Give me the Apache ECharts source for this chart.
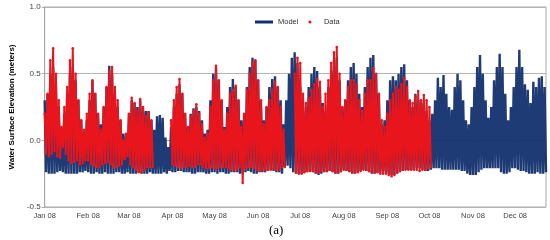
<!DOCTYPE html>
<html>
<head>
<meta charset="utf-8">
<script src="https://cdn.jsdelivr.net/npm/echarts@6/dist/echarts.min.js"></script>
<style>
html,body{margin:0;padding:0;background:#fff;}
#chart{width:550px;height:240px;}
</style>
</head>
<body>
<div id="chart"></div>
<script>
// days since Jan 1 2008, one high/low pair every STEP days
var STEP = 2;
var monthDays = [0, 31, 60, 91, 121, 152, 182, 213, 244, 274, 305, 335];
var monthLabels = ['Jan 08', 'Feb 08', 'Mar 08', 'Apr 08', 'May 08', 'Jun 08', 'Jul 08', 'Aug 08', 'Sep 08', 'Oct 08', 'Nov 08', 'Dec 08'];

// model, upper envelope (m)
var modelHigh = [
	0.30,0.35,0.50,0.55,0.40,0.25,0.10,0.20,0.35,0.50,
	0.55,0.45,0.30,0.15,0.05,0.15,0.30,0.45,0.35,0.20,
	0.12,0.25,0.40,0.56,0.50,0.35,0.25,0.15,0.05,0.05,
	0.20,0.30,0.28,0.25,0.30,0.25,0.22,0.22,0.15,0.08,
	0.18,0.19,0.17,0.02,-0.05,0.10,0.25,0.35,0.42,0.35,
	0.20,0.10,0.20,0.24,0.25,0.22,0.15,0.05,0.08,0.30,
	0.50,0.55,0.45,0.30,0.10,0.25,0.40,0.46,0.40,0.30,
	0.15,0.20,0.40,0.55,0.62,0.60,0.45,0.30,0.15,0.25,
	0.40,0.46,0.48,0.40,0.30,0.12,0.30,0.50,0.62,0.66,
	0.58,0.40,0.22,0.25,0.40,0.50,0.55,0.52,0.40,0.28,
	0.22,0.40,0.52,0.60,0.62,0.45,0.25,0.30,0.45,0.55,
	0.58,0.50,0.35,0.25,0.40,0.55,0.62,0.64,0.50,0.35,
	0.12,0.15,0.30,0.45,0.48,0.45,0.50,0.55,0.57,0.45,
	0.30,0.25,0.35,0.30,0.30,0.28,0.22,0.15,0.20,0.30,
	0.47,0.40,0.49,0.35,0.25,0.23,0.40,0.50,0.45,0.30,
	0.15,0.12,0.25,0.40,0.55,0.64,0.50,0.30,0.17,0.25,
	0.45,0.55,0.65,0.55,0.35,0.15,0.25,0.40,0.55,0.68,
	0.55,0.42,0.38,0.28,0.44,0.40,0.47,0.48,0.40
];
// model, lower envelope (m)
var modelLow = [
	-0.24,-0.25,-0.25,-0.25,-0.24,-0.23,-0.24,-0.25,-0.25,-0.25,
	-0.25,-0.25,-0.24,-0.24,-0.23,-0.24,-0.25,-0.25,-0.24,-0.25,
	-0.25,-0.24,-0.25,-0.25,-0.25,-0.24,-0.24,-0.25,-0.25,-0.24,
	-0.25,-0.25,-0.25,-0.24,-0.25,-0.25,-0.25,-0.24,-0.25,-0.25,
	-0.25,-0.25,-0.24,-0.25,-0.23,-0.24,-0.24,-0.23,-0.23,-0.24,
	-0.24,-0.24,-0.25,-0.25,-0.24,-0.24,-0.24,-0.25,-0.25,-0.24,
	-0.24,-0.25,-0.24,-0.24,-0.25,-0.25,-0.24,-0.24,-0.24,-0.25,
	-0.25,-0.24,-0.23,-0.24,-0.25,-0.25,-0.24,-0.24,-0.24,-0.23,
	-0.22,-0.23,-0.24,-0.24,-0.25,-0.20,-0.19,-0.21,-0.24,-0.25,
	-0.25,-0.25,-0.24,-0.24,-0.23,-0.24,-0.25,-0.26,-0.25,-0.24,
	-0.24,-0.23,-0.24,-0.25,-0.25,-0.24,-0.22,-0.23,-0.24,-0.25,
	-0.25,-0.24,-0.23,-0.22,-0.23,-0.24,-0.25,-0.25,-0.24,-0.24,
	-0.23,-0.24,-0.25,-0.26,-0.26,-0.25,-0.24,-0.23,-0.22,-0.22,
	-0.22,-0.22,-0.21,-0.21,-0.22,-0.23,-0.23,-0.22,-0.21,-0.21,
	-0.21,-0.22,-0.22,-0.22,-0.22,-0.22,-0.22,-0.22,-0.23,-0.23,
	-0.25,-0.26,-0.26,-0.26,-0.24,-0.22,-0.21,-0.21,-0.21,-0.21,
	-0.21,-0.21,-0.24,-0.25,-0.25,-0.24,-0.21,-0.21,-0.22,-0.23,
	-0.23,-0.24,-0.25,-0.25,-0.25,-0.24,-0.25,-0.25,-0.24
];
// observed data, upper / lower envelope (m), null = no data
var dataHigh = [
	0.20,0.35,0.60,0.69,0.50,0.30,0.10,0.25,0.40,0.60,
	0.69,0.50,0.30,0.15,0.08,0.20,0.35,0.45,0.35,0.20,
	0.08,0.25,0.40,0.52,0.55,0.40,0.30,0.15,0.00,0.05,
	0.20,0.32,0.28,0.22,0.31,0.25,0.18,0.21,0.15,null,
	null,null,null,null,null,0.15,0.30,0.40,0.46,0.35,
	0.20,0.10,0.18,0.22,0.27,0.20,0.12,0.02,0.05,0.25,
	0.45,0.56,0.45,0.30,0.08,0.20,0.35,0.38,0.41,0.30,
	0.10,0.20,0.38,0.50,0.58,0.60,0.45,0.30,0.12,0.25,
	0.30,0.38,0.44,0.40,0.25,0.08,null,null,null,0.50,
	0.62,0.58,0.35,0.28,0.32,0.38,0.42,0.46,0.44,0.25,
	0.35,0.45,0.58,0.66,0.70,0.50,0.25,0.30,0.40,0.45,
	0.45,0.42,0.30,0.22,0.35,0.45,0.45,0.54,0.50,0.35,
	0.15,0.10,0.20,0.30,0.35,0.40,0.38,0.42,0.47,0.40,
	0.30,0.28,0.33,0.37,0.30,0.34,0.30,0.25
];
var dataLow = [
	-0.10,-0.12,-0.10,-0.08,-0.12,-0.13,-0.05,-0.10,-0.15,-0.17,
	-0.16,-0.15,-0.18,-0.17,-0.15,-0.15,-0.18,-0.19,-0.20,-0.20,
	-0.18,-0.17,-0.16,-0.18,-0.20,-0.20,-0.19,-0.18,-0.14,-0.12,
	-0.18,-0.20,-0.22,-0.24,-0.24,-0.22,-0.20,-0.20,-0.20,null,
	null,null,null,null,null,-0.18,-0.19,-0.20,-0.21,-0.20,
	-0.20,-0.19,-0.20,-0.20,-0.18,-0.18,-0.20,-0.21,-0.21,-0.20,
	-0.21,-0.21,-0.20,-0.20,-0.20,-0.21,-0.22,-0.22,-0.22,-0.20,
	-0.32,-0.21,-0.20,-0.20,-0.21,-0.22,-0.23,-0.22,-0.22,-0.22,
	-0.22,-0.21,-0.22,-0.22,-0.20,-0.20,null,null,null,-0.24,
	-0.25,-0.25,-0.24,-0.23,-0.23,-0.23,-0.24,-0.24,-0.23,-0.23,
	-0.23,-0.22,-0.23,-0.24,-0.24,-0.23,-0.22,-0.22,-0.23,-0.24,
	-0.24,-0.24,-0.23,-0.22,-0.22,-0.23,-0.24,-0.24,-0.24,-0.25,
	-0.25,-0.25,-0.26,-0.27,-0.26,-0.24,-0.23,-0.22,-0.22,-0.22,
	-0.22,-0.22,-0.22,-0.23,-0.22,-0.22,-0.21,-0.20
];

function zigzag(highs, lows){
	var out = [];
	for(var i=0;i<highs.length;i++){
		var d = i*STEP;
		out.push([d, highs[i]]);
		out.push([d+STEP/2, lows[i]]);
	}
	return out;
}

var font = '"Liberation Sans", Arial, sans-serif';
var chart = echarts.init(document.getElementById('chart'), null, {renderer:'canvas'});
var option = {
	animation: false,
	grid: {
		left: 38,
		right: 4,
		top: 7,
		bottom: 33,
		show: true,
		borderColor: '#a8a8a8',
		borderWidth: 1
	},
	legend: {
		left: 250,
		top: 13,
		itemWidth: 18,
		itemHeight: 3,
		itemGap: 10,
		textStyle: {
			fontFamily: font,
			fontSize: 7.5,
			color: '#333'
		},
		data: [
			{name: 'Model', icon: 'rect'},
			{name: 'Data', icon: 'circle'}
		]
	},
	xAxis: {
		type: 'value',
		min: 0,
		max: 357,
		splitLine: {show: false},
		axisLine: {lineStyle: {color: '#a8a8a8'}},
		axisTick: {
			customValues: monthDays,
			length: 3,
			lineStyle: {color: '#a8a8a8'}
		},
		axisLabel: {
			customValues: monthDays,
			formatter: function(v){
				return monthLabels[monthDays.indexOf(v)];
			},
			fontFamily: font,
			fontSize: 7.5,
			color: '#444',
			margin: 5
		}
	},
	yAxis: {
		type: 'value',
		min: -0.5,
		max: 1.0,
		interval: 0.5,
		name: 'Water Surface Elevation (meters)',
		nameLocation: 'middle',
		nameGap: 27,
		nameTextStyle: {
			fontFamily: font,
			fontSize: 8,
			fontWeight: 'bold',
			color: '#000'
		},
		axisLine: {show: true, lineStyle: {color: '#a8a8a8'}},
		axisTick: {show: true, length: 3, lineStyle: {color: '#a8a8a8'}},
		axisLabel: {
			formatter: function(v){ return v.toFixed(1); },
			fontFamily: font,
			fontSize: 8,
			color: '#444',
			margin: 4
		},
		splitLine: {lineStyle: {color: '#b4b4b4', width: 1}}
	},
	series: [{
		name: 'Model',
		type: 'line',
		data: zigzag(modelHigh, modelLow),
		showSymbol: false,
		symbol: 'none',
		color: '#13306e',
		lineStyle: {color: '#13306e', width: 2.4, opacity: 0.95, join: 'bevel'}
	}, {
		name: 'Data',
		type: 'line',
		data: zigzag(dataHigh, dataLow),
		connectNulls: false,
		symbol: 'circle',
		symbolSize: 2.5,
		showSymbol: true,
		showAllSymbol: true,
		color: '#e8161c',
		itemStyle: {color: '#e8161c'},
		lineStyle: {color: '#e8161c', width: 2, join: 'bevel'}
	}],
	graphic: [{
		type: 'text',
		left: 269,
		top: 224,
		style: {
			text: '(a)',
			font: '13px "Liberation Serif", "Times New Roman", serif',
			fill: '#000'
		}
	}]
};
chart.setOption(option);
</script>
</body>
</html>
